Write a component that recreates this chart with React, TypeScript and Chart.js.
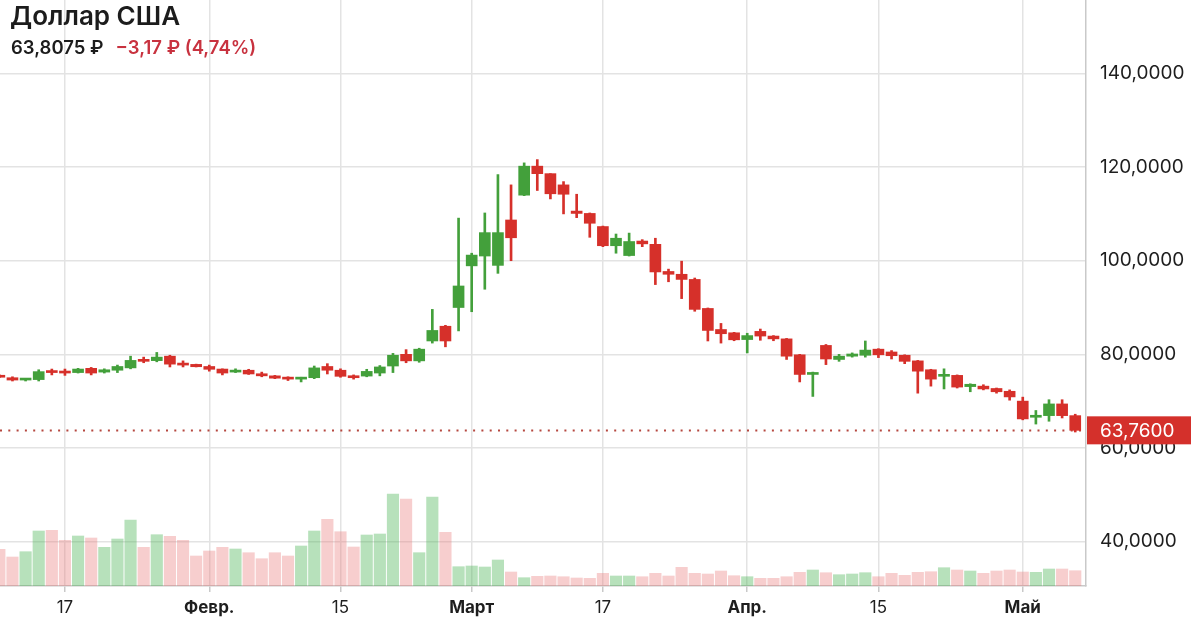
import React, { useEffect, useRef } from 'react';
import { Chart, registerables } from 'chart.js';

Chart.register(...registerables);

// ---- Data ----
const opens = [
  75.4, 75.0, 74.5, 74.6, 76.4, 76.35, 76.1, 77.0, 76.2, 76.6,
  77.1, 78.9, 78.65, 79.6, 78.1, 77.85, 77.4, 76.85, 76.2, 76.6,
  75.85, 75.4, 75.0, 74.7, 75.0, 77.4, 76.6, 75.4, 75.35, 76.0,
  77.5, 80.0, 78.6, 82.85, 86.0, 90.0, 98.9, 101.0, 99.0, 108.7,
  114.0, 120.2, 118.6, 116.2, 110.6, 110.1, 107.3, 103.2, 101.1, 104.2,
  103.5, 97.7, 97.1, 96.0, 89.8, 85.3, 84.6, 83.15, 84.9, 83.9,
  83.3, 79.9, 75.7, 81.9, 78.9, 79.6, 79.8, 81.1, 80.5, 79.8,
  78.6, 76.7, 75.3, 75.5, 73.1, 73.2, 72.7, 72.1, 70.0, 66.55,
  66.9, 69.4, 66.9,
];
const highs = [
  75.6, 75.2, 74.8, 76.7, 76.85, 76.85, 77.0, 77.2, 76.9, 77.7,
  79.6, 79.4, 80.4, 79.8, 78.6, 77.9, 77.7, 76.9, 76.9, 76.8,
  76.2, 75.5, 75.2, 75.1, 77.5, 78.0, 76.9, 75.6, 76.8, 77.6,
  80.2, 81.0, 81.3, 89.6, 86.2, 109.1, 101.6, 110.2, 118.4, 116.2,
  120.9, 121.6, 118.6, 116.9, 114.2, 110.2, 107.4, 105.7, 105.9, 104.5,
  104.8, 98.2, 99.9, 96.3, 89.9, 86.6, 84.7, 84.5, 85.4, 84.0,
  83.4, 80.0, 76.2, 82.1, 80.0, 80.3, 82.85, 81.2, 80.8, 79.9,
  78.7, 76.8, 76.9, 75.6, 73.7, 73.5, 72.8, 72.4, 70.85, 68.0,
  70.3, 70.3, 67.2,
];
const lows = [
  75.0, 74.3, 74.3, 74.3, 75.6, 75.5, 76.0, 75.6, 76.0, 76.1,
  76.9, 78.2, 78.4, 77.3, 77.3, 77.3, 76.4, 75.6, 76.1, 75.7,
  75.2, 74.8, 74.4, 74.1, 74.8, 75.8, 75.1, 74.7, 75.2, 75.4,
  76.1, 78.2, 78.3, 82.4, 81.6, 85.0, 89.1, 93.9, 97.3, 100.0,
  113.9, 115.0, 113.2, 110.0, 109.2, 105.0, 103.0, 101.6, 101.0, 103.0,
  94.9, 95.5, 91.9, 89.2, 82.85, 82.4, 82.9, 80.3, 83.0, 82.9,
  78.9, 74.1, 71.0, 77.8, 78.5, 79.4, 79.4, 79.3, 79.0, 78.0,
  71.7, 73.2, 72.6, 72.8, 72.0, 72.4, 71.7, 70.2, 66.0, 65.1,
  65.7, 66.4, 63.4,
];
const closes = [
  75.1, 74.5, 74.7, 76.3, 76.1, 76.0, 76.85, 76.0, 76.7, 77.4,
  78.7, 78.5, 79.4, 77.9, 77.7, 77.35, 76.8, 76.0, 76.6, 75.8,
  75.4, 74.9, 74.7, 75.0, 77.1, 76.6, 75.3, 75.0, 76.35, 77.3,
  79.8, 78.6, 81.1, 85.1, 82.85, 94.6, 101.2, 106.0, 106.0, 104.9,
  120.2, 118.6, 114.3, 114.2, 110.1, 108.0, 103.2, 104.8, 104.1, 103.6,
  97.6, 97.1, 96.0, 89.6, 85.1, 84.4, 83.1, 84.0, 83.9, 83.3,
  79.6, 75.7, 76.1, 79.0, 79.6, 80.07, 80.9, 79.9, 79.7, 78.5,
  76.4, 74.7, 75.7, 73.0, 73.6, 72.6, 72.0, 70.9, 66.2, 66.9,
  69.4, 66.9, 63.76,
];
const volumes = [
  36.7, 29, 34.3, 55, 55.7, 45.7, 50, 48, 38.7, 47,
  66, 38.7, 51.3, 49.7, 45.7, 30, 35, 38.7, 37, 33.3,
  27.3, 33.3, 30, 40, 55, 66.7, 54.3, 39, 51, 52,
  92, 87, 33.3, 89, 53.7, 19.3, 20, 19, 26, 14,
  8.3, 9.7, 10, 9.3, 8, 7.7, 12.7, 10, 10, 9.3,
  12.7, 10, 18.7, 12.7, 12, 15, 10.3, 9.3, 7.7, 7.7,
  9.3, 13.7, 16, 13.3, 11.3, 12, 13.3, 9.3, 12.7, 10.7,
  13.7, 14.3, 18.3, 16, 15, 12.7, 15, 16, 14, 13.7,
  17, 17, 15.3,
];
const xTickIndex = [5, 16, 26, 36, 46, 57, 67, 78];
const xTickLabels = ['17', 'Февр.', '15', 'Март', '17', 'Апр.', '15', 'Май'];
const xTickIsMonth = [false, true, false, true, false, true, false, true];
const yTickValues = [40, 60, 80, 100, 120, 140];
const lastPrice = 63.76;
const titleText = 'Доллар США';
const priceText = '63,8075 ₽';
const changeText = '−3,17 ₽ (4,74%)';

// ---- Styles ----
const FONT = 'Inter, "Liberation Sans", Arial, sans-serif';
const GREEN = '#43a03b';
const RED = '#d6302a';
const VOL_GREEN = 'rgba(76, 180, 84, 0.40)';
const VOL_RED = 'rgba(232, 120, 120, 0.36)';
const GRID = '#e3e3e3';
const AXIS = '#c9c9c9';

const fmt = (v: number) => v.toFixed(4).replace('.', ',');

const priceLinePlugin = {
  id: 'priceLine',
  beforeDatasetsDraw(chart: any) {
    const { ctx, chartArea, scales } = chart;
    const y = Math.round(scales.y.getPixelForValue(lastPrice)) + 0.5;
    ctx.save();
    ctx.strokeStyle = '#b5473f';
    ctx.lineWidth = 2;
    ctx.setLineDash([2, 6.3]);
    ctx.beginPath();
    ctx.moveTo(chartArea.left, y);
    ctx.lineTo(chartArea.right, y);
    ctx.stroke();
    ctx.restore();
  },
  afterDraw(chart: any) {
    const { ctx, chartArea, scales } = chart;
    const y = scales.y.getPixelForValue(lastPrice);
    ctx.save();
    ctx.fillStyle = '#d4302b';
    ctx.fillRect(chartArea.right + 1, y - 14, 104, 28);
    ctx.fillStyle = '#ffffff';
    ctx.font = `19px ${FONT}`;
    ctx.textBaseline = 'middle';
    ctx.textAlign = 'left';
    ctx.fillText(fmt(lastPrice), chartArea.right + 14, y + 1);
    ctx.restore();
  },
};

export default function App() {
  const canvasRef = useRef<HTMLCanvasElement | null>(null);

  useEffect(() => {
    if (!canvasRef.current) return;
    const up = closes.map((c, i) => c >= opens[i]);
    const candleColors = up.map((u) => (u ? GREEN : RED));
    const chart = new Chart(canvasRef.current, {
      type: 'bar',
      data: {
        datasets: [
          {
            label: 'Тело',
            data: opens.map((o, i) => ({ x: i, y: [Math.min(o, closes[i]), Math.max(o, closes[i])] })) as any,
            yAxisID: 'y',
            backgroundColor: candleColors,
            barThickness: 11,
            minBarLength: 2,
            grouped: false,
            borderWidth: 0,
            borderSkipped: false,
            order: 1,
          },
          {
            label: 'Тени',
            data: highs.map((h, i) => ({ x: i, y: [lows[i], h] })) as any,
            yAxisID: 'y',
            backgroundColor: candleColors,
            barThickness: 2,
            grouped: false,
            borderWidth: 0,
            borderSkipped: false,
            order: 2,
          },
          {
            label: 'Объём',
            data: volumes.map((v, i) => ({ x: i, y: v })) as any,
            yAxisID: 'yv',
            backgroundColor: up.map((u) => (u ? VOL_GREEN : VOL_RED)),
            barThickness: 11.5,
            grouped: false,
            borderWidth: 0,
            order: 3,
          },
        ],
      },
      options: {
        animation: false,
        responsive: true,
        maintainAspectRatio: false,
        layout: { padding: 0 },
        plugins: { legend: { display: false }, tooltip: { enabled: false } },
        scales: {
          x: {
            type: 'linear',
            offset: false,
            bounds: 'data',
            min: 0.05,
            max: 82.82,
            afterBuildTicks: (s: any) => {
              s.ticks = xTickIndex.map((v) => ({ value: v }));
            },
            afterFit: (s: any) => {
              s.height = 40;
              s.paddingLeft = 0;
              s.paddingRight = 0;
            },
            ticks: {
              autoSkip: false,
              maxRotation: 0,
              padding: 6,
              color: '#1e1e1e',
              callback: (_v: any, i: number) => xTickLabels[i],
              font: (c: any) => ({
                family: FONT,
                size: 17,
                weight: xTickIsMonth[c.index] ? 'bold' : 'normal',
              }),
            },
            grid: { offset: false, color: GRID, lineWidth: 1.5, tickLength: 6, tickColor: AXIS, drawTicks: true },
            border: { color: AXIS, width: 1.5 },
          },
          y: {
            position: 'right',
            bounds: 'data',
            min: 30.5,
            max: 155.7,
            afterBuildTicks: (s: any) => {
              s.ticks = yTickValues.map((v) => ({ value: v }));
            },
            afterFit: (s: any) => {
              s.width = 114;
              s.paddingTop = 0;
              s.paddingBottom = 0;
            },
            ticks: {
              padding: 14,
              color: '#1e1e1e',
              font: { family: FONT, size: 19 },
              callback: (v: any) => fmt(Number(v)),
            },
            grid: { color: GRID, lineWidth: 1.5, drawTicks: false },
            border: { color: AXIS, width: 1.5 },
          },
          yv: {
            display: false,
            position: 'right',
            min: 0,
            max: 586,
          },
        },
      } as any,
      plugins: [priceLinePlugin],
    });
    return () => chart.destroy();
  }, []);

  return (
    <div style={{ position: 'fixed', left: 0, top: 0, width: 1200, height: 626, background: '#fff', overflow: 'hidden' }}>
      <canvas ref={canvasRef} />
      <div
        style={{
          position: 'absolute',
          left: 10,
          top: 0,
          fontFamily: FONT,
          fontSize: 26,
          fontWeight: 600,
          color: '#1c1c1c',
          lineHeight: '32px',
          pointerEvents: 'none',
        }}
      >
        {titleText}
      </div>
      <div
        style={{
          position: 'absolute',
          left: 11,
          top: 35,
          fontFamily: FONT,
          fontSize: 18.5,
          fontWeight: 600,
          lineHeight: '24px',
          pointerEvents: 'none',
          whiteSpace: 'nowrap',
        }}
      >
        <span style={{ color: '#1c1c1c' }}>{priceText}</span>
        <span style={{ color: '#c8323f', marginLeft: 12 }}>{changeText}</span>
      </div>
    </div>
  );
}
